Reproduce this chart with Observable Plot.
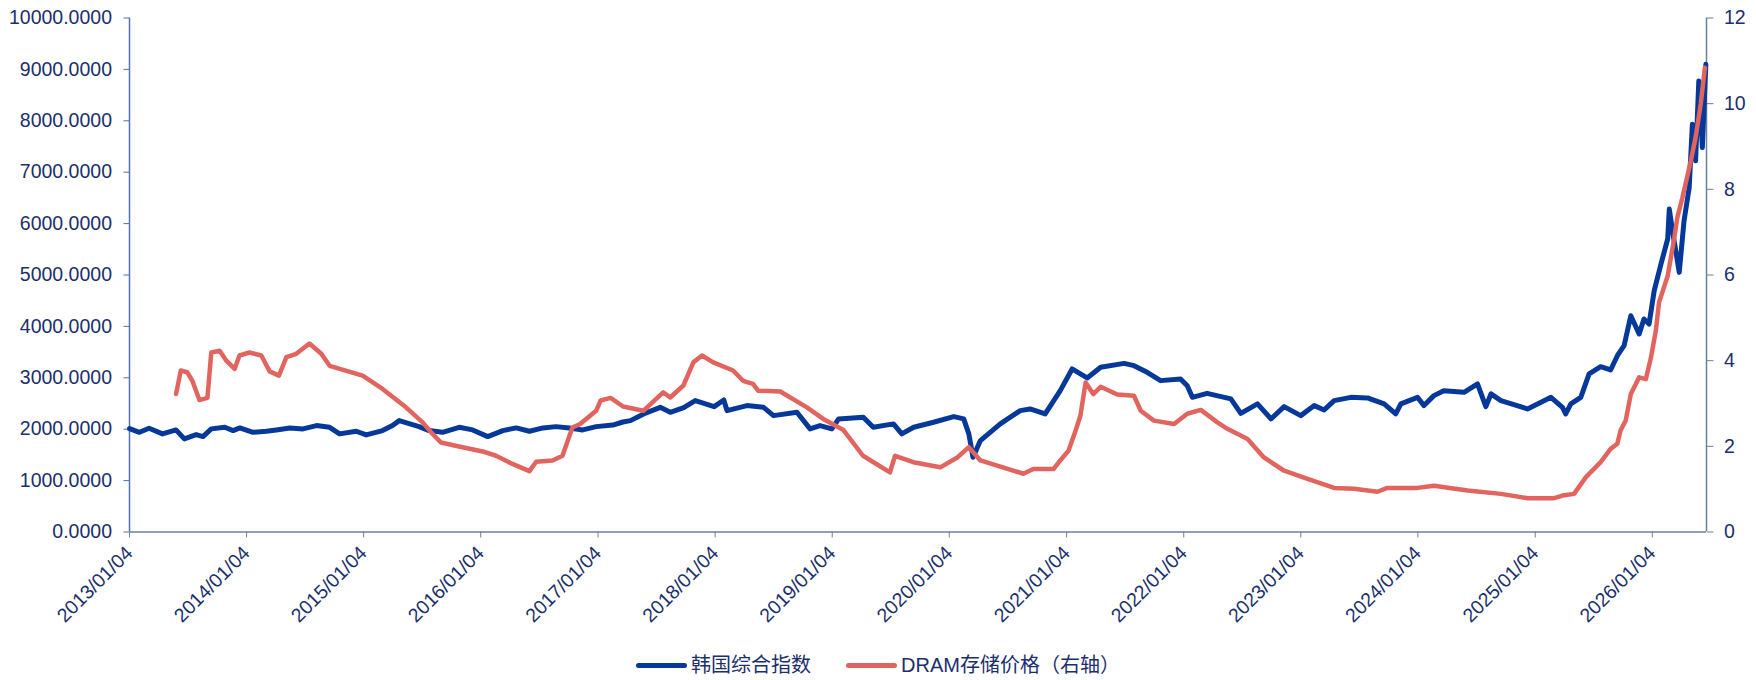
<!DOCTYPE html>
<html>
<head>
<meta charset="utf-8">
<script src="https://cdn.jsdelivr.net/npm/d3@7"></script>
<script src="https://cdn.jsdelivr.net/npm/@observablehq/plot@0.6"></script>
<style>
  html, body { margin: 0; padding: 0; background: #ffffff; }
  #chart svg { display: block; }
  .legend {
    height: 40px; box-sizing: border-box; padding-top: 10px;
    display: flex; justify-content: center; align-items: center;
    font-family: "Liberation Sans", "Noto Sans CJK SC", sans-serif;
    font-size: 20px; color: #1b2f6b; line-height: 30px;
  }
  .item { display: flex; align-items: center; }
  .item + .item { margin-left: 35px; }
  .swatch { width: 51px; height: 5px; border-radius: 3px; margin-right: 4px; }
</style>
</head>
<body>
<div id="chart"></div>
<div class="legend" id="legend"></div>
<script>
// ---- data ----
const seriesNames = ["韩国综合指数", "DRAM存储价格（右轴）"];

const kospiDates = [
  "2013-01-04","2013-02-04","2013-03-06","2013-04-17","2013-05-29","2013-06-24","2013-07-31","2013-08-21",
  "2013-09-16","2013-10-28","2013-11-23","2013-12-14","2014-01-24","2014-03-07","2014-04-07","2014-05-19",
  "2014-06-29","2014-08-10","2014-09-20","2014-10-21","2014-12-12","2015-01-12","2015-03-04","2015-04-04",
  "2015-04-25","2015-06-05","2015-06-26","2015-07-27","2015-09-07","2015-10-29","2015-12-10","2016-01-26",
  "2016-03-13","2016-04-24","2016-06-04","2016-07-16","2016-08-26","2016-10-06","2016-11-17","2016-12-29",
  "2017-02-19","2017-03-22","2017-04-15","2017-05-26","2017-07-17","2017-08-17","2017-09-28","2017-11-03",
  "2018-01-01","2018-01-31","2018-02-10","2018-04-13","2018-06-04","2018-07-05","2018-09-16","2018-10-27",
  "2018-11-27","2019-01-03","2019-01-24","2019-04-11","2019-05-12","2019-07-14","2019-08-09","2019-09-15",
  "2019-11-16","2020-01-18","2020-02-18","2020-03-05","2020-03-18","2020-04-10","2020-06-11","2020-08-12",
  "2020-09-12","2020-10-29","2020-12-15","2021-01-21","2021-02-16","2021-03-09","2021-04-20","2021-07-02",
  "2021-08-02","2021-09-12","2021-10-24","2021-12-25","2022-01-15","2022-01-31","2022-03-18","2022-05-31",
  "2022-07-01","2022-08-22","2022-10-03","2022-11-13","2023-01-04","2023-02-15","2023-03-18","2023-04-18",
  "2023-06-09","2023-07-31","2023-09-21","2023-10-27","2023-11-12","2024-01-03","2024-01-23","2024-02-23",
  "2024-03-25","2024-05-27","2024-07-08","2024-08-03","2024-08-19","2024-09-19","2024-12-11","2025-02-22",
  "2025-03-30","2025-04-09","2025-04-25","2025-05-26","2025-06-21","2025-07-27","2025-08-27","2025-09-17",
  "2025-10-08","2025-10-29","2025-11-24","2025-12-09","2025-12-25","2026-01-10","2026-01-31","2026-02-21",
  "2026-02-26","2026-03-08","2026-03-29","2026-04-13","2026-04-29","2026-05-09","2026-05-19","2026-05-29",
  "2026-06-09","2026-06-20"
];
const kospiValues = [
  2010,1940,2018,1909,1986,1811,1895,1856,
  2006,2037,1973,2025,1940,1960,1986,2025,
  2006,2070,2037,1909,1960,1888,1973,2070,
  2167,2090,2050,1973,1940,2037,1986,1856,
  1973,2025,1960,2025,2050,2025,1986,2050,
  2080,2140,2167,2297,2426,2329,2420,2556,
  2439,2569,2361,2459,2426,2264,2329,2006,
  2070,2006,2200,2232,2037,2103,1909,2037,
  2135,2245,2200,1909,1454,1778,2103,2361,
  2394,2297,2750,3172,3075,2997,3204,3281,
  3236,3106,2945,2977,2847,2620,2698,2589,
  2309,2492,2200,2439,2264,2459,2375,2556,
  2620,2608,2492,2297,2492,2620,2459,2653,
  2750,2717,2880,2439,2686,2556,2394,2620,
  2426,2297,2492,2620,3075,3217,3152,3430,
  3625,4208,3852,4144,4047,4694,5213,5700,
  6282,5860,5051,6054,6702,7934,7221,8775,
  7480,9100
];

const dramDates = [
  "2013-05-29","2013-06-13","2013-07-03","2013-07-19","2013-08-10","2013-09-04","2013-09-16","2013-10-12",
  "2013-11-02","2013-11-28","2013-12-13","2014-01-13","2014-02-19","2014-03-17","2014-04-15","2014-05-08",
  "2014-06-08","2014-07-19","2014-08-25","2014-09-20","2015-01-01","2015-03-04","2015-05-16","2015-07-07",
  "2015-08-07","2015-09-02","2015-11-08","2016-01-10","2016-02-21","2016-04-12","2016-06-04","2016-06-25",
  "2016-08-15","2016-09-15","2016-10-16","2016-11-09","2016-12-29","2017-01-12","2017-02-12","2017-03-23",
  "2017-05-25","2017-07-26","2017-08-17","2017-09-27","2017-10-28","2017-11-24","2017-12-29","2018-03-01",
  "2018-04-01","2018-05-02","2018-05-18","2018-07-26","2018-10-17","2018-12-07","2019-02-08","2019-04-10",
  "2019-07-03","2019-07-19","2019-09-14","2019-12-07","2020-01-29","2020-03-05","2020-04-10","2020-08-22",
  "2020-09-22","2020-11-24","2020-12-15","2021-01-10","2021-02-01","2021-02-16","2021-03-04","2021-03-28",
  "2021-04-20","2021-06-11","2021-08-02","2021-08-23","2021-10-03","2021-12-05","2022-01-15","2022-02-26",
  "2022-04-19","2022-05-20","2022-07-22","2022-09-11","2022-11-13","2023-01-25","2023-04-18","2023-06-19",
  "2023-08-31","2023-10-01","2024-01-03","2024-02-23","2024-06-07","2024-09-19","2024-12-11","2025-03-04",
  "2025-03-30","2025-05-05","2025-06-11","2025-07-27","2025-08-27","2025-09-17","2025-09-27","2025-10-13",
  "2025-10-29","2025-11-24","2025-12-15","2025-12-31","2026-01-15","2026-01-25","2026-02-21","2026-03-13",
  "2026-03-23","2026-04-08","2026-05-04","2026-05-19","2026-06-04","2026-06-17"
];
const dramValues = [
  3.22,3.77,3.73,3.53,3.08,3.13,4.19,4.23,
  4.00,3.81,4.12,4.19,4.12,3.75,3.65,4.08,
  4.16,4.40,4.16,3.88,3.65,3.34,2.91,2.56,
  2.29,2.09,1.98,1.88,1.78,1.59,1.42,1.64,
  1.67,1.78,2.44,2.52,2.83,3.07,3.13,2.93,
  2.83,3.26,3.14,3.42,3.96,4.12,3.96,3.77,
  3.53,3.46,3.30,3.28,2.91,2.64,2.38,1.78,
  1.39,1.78,1.63,1.51,1.74,1.98,1.67,1.36,
  1.47,1.47,1.67,1.90,2.37,2.72,3.49,3.22,
  3.39,3.21,3.18,2.83,2.60,2.52,2.76,2.85,
  2.56,2.41,2.17,1.74,1.43,1.24,1.03,1.01,
  0.94,1.03,1.03,1.08,0.97,0.89,0.79,0.79,
  0.85,0.89,1.28,1.63,1.94,2.06,2.37,2.60,
  3.22,3.61,3.57,4.08,4.70,5.36,5.98,6.84,
  7.34,7.81,8.66,9.21,9.99,10.84
];

const leftTicks = [0,1000,2000,3000,4000,5000,6000,7000,8000,9000,10000];
const rightTicks = [0,2,4,6,8,10,12];
const xTickLabels = ["2013/01/04","2014/01/04","2015/01/04","2016/01/04","2017/01/04","2018/01/04","2019/01/04",
  "2020/01/04","2021/01/04","2022/01/04","2023/01/04","2024/01/04","2025/01/04","2026/01/04"];
const xDomainLabels = ["2013-01-04","2026-06-22"];

// ---- chart ----
const blue = "#06389a", red = "#e2645f", textColor = "#1b2f6b";
const axisLeftColor = "#5171b2", axisColor = "#6a819f";

const parse = d3.utcParse("%Y-%m-%d");
const parseTick = d3.utcParse("%Y/%m/%d");
const kospi = kospiDates.map((d, i) => ({date: parse(d), value: kospiValues[i]}));
const dram = dramDates.map((d, i) => ({date: parse(d), value: dramValues[i]}));
const [xStart, xEnd] = xDomainLabels.map(parse);
const leftMax = leftTicks[leftTicks.length - 1];
const rightMax = rightTicks[rightTicks.length - 1];
const ratio = leftMax / rightMax;

const chart = Plot.plot({
  width: 1756,
  height: 640,
  marginLeft: 129,
  marginRight: 50,
  marginTop: 17.5,
  marginBottom: 108.5,
  x: {type: "utc", domain: [xStart, xEnd]},
  y: {domain: [0, leftMax]},
  style: {fontFamily: "'Liberation Sans', Arial, sans-serif", fontSize: "19.5px", background: "#ffffff", color: textColor},
  marks: [
    Plot.axisY({anchor: "left", ticks: leftTicks, tickFormat: d => d.toFixed(4), tickSize: 5.5, tickPadding: 12,
      stroke: axisLeftColor, fill: textColor, label: null}),
    Plot.axisY({anchor: "right", ticks: rightTicks.map(v => v * ratio), tickFormat: d => String(Math.round(d / ratio)),
      tickSize: 6.5, tickPadding: 11, stroke: axisColor, fill: textColor, label: null}),
    Plot.axisX({ticks: xTickLabels.map(parseTick), tickFormat: d3.utcFormat("%Y/%m/%d"), tickRotate: -45,
      tickSize: 6, tickPadding: 12, stroke: axisColor, fill: textColor, label: null}),
    Plot.ruleX([xStart], {stroke: axisLeftColor, strokeWidth: 1.5}),
    Plot.ruleX([xEnd], {stroke: axisColor, strokeWidth: 1.5}),
    Plot.ruleY([0], {stroke: axisColor, strokeWidth: 1.5}),
    Plot.line(kospi, {x: "date", y: "value", stroke: blue, strokeWidth: 5}),
    Plot.line(dram, {x: "date", y: d => d.value * ratio, stroke: red, strokeWidth: 4.5})
  ]
});
document.getElementById("chart").append(chart);

const legend = document.getElementById("legend");
[[seriesNames[0], blue], [seriesNames[1], red]].forEach(([name, color]) => {
  const item = document.createElement("div");
  item.className = "item";
  const sw = document.createElement("div");
  sw.className = "swatch";
  sw.style.background = color;
  const label = document.createElement("span");
  label.textContent = name;
  item.append(sw, label);
  legend.append(item);
});
</script>
</body>
</html>
